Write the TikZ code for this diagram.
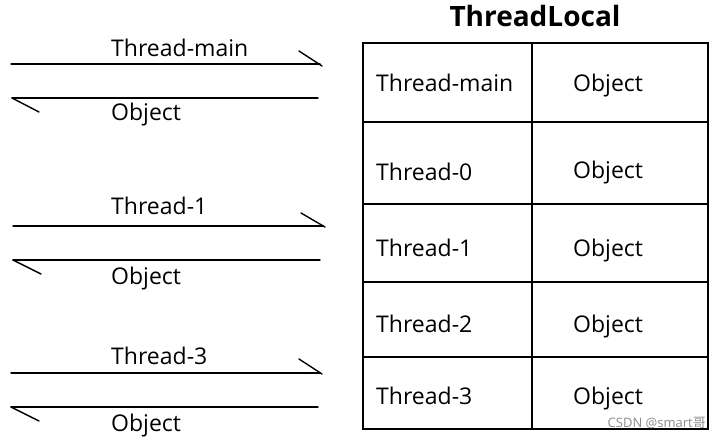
\documentclass[tikz,border=0pt]{standalone}
\usepackage{fontspec}
\setmainfont{Open Sans}
\newfontfamily\cjkfont{Noto Sans CJK SC}
\begin{document}
\begin{tikzpicture}[x=1pt,y=-1pt,
  lbl/.style={anchor=base west,inner sep=0pt,font=\fontsize{23}{27}\selectfont},
  ttl/.style={anchor=base,inner sep=0pt,font=\fontsize{28}{32}\selectfont\bfseries},
  wire/.style={line width=1.4pt,line cap=round},
  barb/.style={line width=1.4pt,line cap=round},
  grid/.style={line width=1.8pt},
  wm/.style={anchor=base east,inner sep=0pt,text=black!45,font=\fontsize{13}{15}\selectfont}]
\useasboundingbox (0,0) rectangle (720,441);
\fill[white] (0,0) rectangle (720,441);

% ---- left arrows ----
\coordinate (t1a) at (11,64);  \coordinate (t1b) at (320,64);
\coordinate (t1c) at (299,51); \coordinate (t1d) at (322,66);
\coordinate (r1a) at (318,98); \coordinate (r1b) at (12,98);
\coordinate (r1c) at (39,112);
\draw[wire] (t1a) -- (t1b);
\draw[barb] (t1c) -- (t1d);
\draw[wire] (r1a) -- (r1b);
\draw[barb] (r1b) -- (r1c);
\node[lbl] (l1) at (111,57) {Thread-main};
\node[lbl] (o1) at (111,121) {Object};

\coordinate (t2a) at (13,226); \coordinate (t2b) at (323,226);
\coordinate (t2c) at (301,213); \coordinate (t2d) at (325,227);
\coordinate (r2a) at (320,260); \coordinate (r2b) at (13,260);
\coordinate (r2c) at (41,274);
\draw[wire] (t2a) -- (t2b);
\draw[barb] (t2c) -- (t2d);
\draw[wire] (r2a) -- (r2b);
\draw[barb] (r2b) -- (r2c);
\node[lbl] (l2) at (111,214) {Thread-1};
\node[lbl] (o2) at (111,284) {Object};

\coordinate (t3a) at (11,373); \coordinate (t3b) at (320,373);
\coordinate (t3c) at (299,359); \coordinate (t3d) at (322,374);
\coordinate (r3a) at (318,407); \coordinate (r3b) at (11,407);
\coordinate (r3c) at (39,421);
\draw[wire] (t3a) -- (t3b);
\draw[barb] (t3c) -- (t3d);
\draw[wire] (r3a) -- (r3b);
\draw[barb] (r3b) -- (r3c);
\node[lbl] (l3) at (111,364) {Thread-3};
\node[lbl] (o3) at (111,431) {Object};

% ---- table ----
\node[ttl] (title) at (535,27) {ThreadLocal};
\draw[grid] (363,43) rectangle (708,429);
\draw[grid] (532,43) -- (532,429);
\draw[grid] (363,122) -- (708,122);
\draw[grid] (363,204) -- (708,204);
\draw[grid] (363,282) -- (708,282);
\draw[grid] (363,357) -- (708,357);

\node[lbl] (k0) at (376,92) {Thread-main};
\node[lbl] (v0) at (573,92) {Object};
\node[lbl] (k1) at (376,180) {Thread-0};
\node[lbl] (v1) at (573,178) {Object};
\node[lbl] (k2) at (376,256) {Thread-1};
\node[lbl] (v2) at (573,256) {Object};
\node[lbl] (k3) at (376,332) {Thread-2};
\node[lbl] (v3) at (573,332) {Object};
\node[lbl] (k4) at (376,404) {Thread-3};
\node[lbl] (v4) at (573,404) {Object};

\node[wm] (mark) at (706,427) {CSDN @smart{\cjkfont 哥}};
\end{tikzpicture}
\end{document}
